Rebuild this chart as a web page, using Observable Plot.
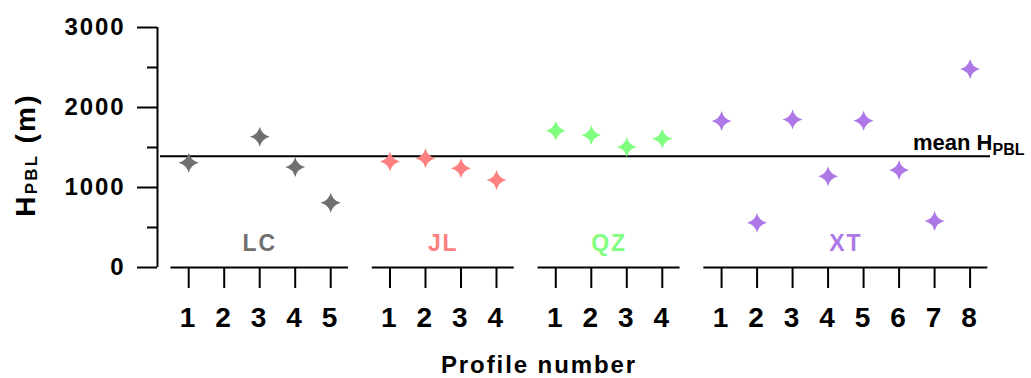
<!DOCTYPE html>
<html><head><meta charset="utf-8">
<script src="https://cdn.jsdelivr.net/npm/d3@7"></script>
<script src="https://cdn.jsdelivr.net/npm/@observablehq/plot@0.6"></script>
<style>
html,body{margin:0;padding:0;background:#fff;}
#chart svg{display:block;}
#chart text{letter-spacing:0.08em;}
#chart text.meanlabel{letter-spacing:0;}
</style></head><body><div id="chart"></div>
<script>
const groups = ["LC", "JL", "QZ", "XT"];
const groupColors = ["#6f6f6f", "#ff8080", "#80ff80", "#ad78e6"];
const lcValues = [1310, null, 1635, 1255, 810];
const jlValues = [1325, 1365, 1240, 1095];
const qzValues = [1710, 1655, 1505, 1610];
const xtValues = [1830, 560, 1850, 1140, 1835, 1220, 580, 2480];
const meanHPBL = 1390;
const yTicks = [0, 1000, 2000, 3000];
const yMinorTicks = [500, 1500, 2500];
const xTitle = "Profile number";

const seriesValues = [lcValues, jlValues, qzValues, xtValues];
const GAP = 0.67;
let k = 0;
const points = [], groupInfo = [], tickPos = [], tickLabel = new Map();
seriesValues.forEach((vals, j) => {
  const start = k + GAP * j;
  vals.forEach((v, i) => {
    const pos = start + i;
    tickPos.push(pos);
    tickLabel.set(pos, String(i + 1));
    if (v != null) points.push({group: groups[j], profile: i + 1, pos, value: v, color: groupColors[j]});
  });
  groupInfo.push({name: groups[j], color: groupColors[j], x1: start - 0.5, x2: start + vals.length - 1 + 0.5, center: start + (vals.length - 1) / 2});
  k += vals.length;
});
const xDomain = [tickPos[0] - 0.879, tickPos[tickPos.length - 1] + 0.575];

const star4 = {
  draw(ctx, size) {
    const r = Math.sqrt(size / Math.PI), c = 0.2 * r;
    ctx.moveTo(0, -r);
    ctx.quadraticCurveTo(c, -c, r, 0);
    ctx.quadraticCurveTo(c, c, 0, r);
    ctx.quadraticCurveTo(-c, c, -r, 0);
    ctx.quadraticCurveTo(-c, -c, 0, -r);
    ctx.closePath();
  }
};

function yTitleMark(index, scales, values, dims) {
  const g = d3.create("svg:g");
  const t = g.append("text")
    .attr("transform", "translate(35,155) rotate(-90)")
    .attr("text-anchor", "middle")
    .attr("font-size", 28)
    .attr("fill", "#000");
  t.append("tspan").text("H");
  t.append("tspan").attr("font-size", 17).attr("dy", 2).text("PBL");
  t.append("tspan").attr("dy", -2).style("white-space", "pre").text(" (m)");
  return g.node();
}

function meanLabelMark(index, scales, values, dims) {
  const g = d3.create("svg:g");
  const t = g.append("text")
    .attr("class", "meanlabel")
    .attr("x", scales.x(xDomain[1]) - 77)
    .attr("y", scales.y(meanHPBL) - 6)
    .attr("text-anchor", "start")
    .attr("font-size", 22)
    .attr("fill", "#000");
  t.append("tspan").text("mean H");
  t.append("tspan").attr("font-size", 16).attr("dy", 5).text("PBL");
  return g.node();
}

const chart = Plot.plot({
  width: 1031, height: 378,
  marginTop: 27, marginBottom: 111, marginLeft: 157, marginRight: 41,
  style: {fontFamily: "'Liberation Sans', Arial, Helvetica, sans-serif", fontWeight: "bold", color: "#000", background: "#fff"},
  x: {type: "linear", domain: xDomain, label: null},
  y: {domain: [0, 3000], label: null},
  marks: [
    Plot.ruleX([xDomain[0]], {strokeWidth: 2}),
    Plot.axisY(yTicks, {tickSize: 20, tickPadding: 12, strokeWidth: 2, fontSize: 24, tickFormat: d => String(d), label: null}),
    Plot.axisY(yMinorTicks, {tickSize: 10, strokeWidth: 2, tickFormat: () => "", label: null}),
    Plot.ruleY(groupInfo, {y: () => 0, x1: "x1", x2: "x2", strokeWidth: 2}),
    Plot.axisX(tickPos, {tickSize: 21, tickPadding: 19, strokeWidth: 2, fontSize: 28, tickFormat: d => tickLabel.get(d), label: null}),
    Plot.ruleY([meanHPBL], {strokeWidth: 2, insetLeft: 3}),
    Plot.text(groupInfo, {x: "center", y: () => 0, text: "name", fill: "color", fontSize: 23, dy: -24, lineAnchor: "middle"}),
    Plot.dot(points, {x: "pos", y: "value", fill: "color", symbol: star4, r: 10}),
    Plot.text([xTitle], {text: d => d, frameAnchor: "bottom", dx: -35, dy: 105, lineAnchor: "bottom", fontSize: 24}),
    yTitleMark,
    meanLabelMark
  ]
});
document.getElementById("chart").appendChild(chart);
</script></body></html>
